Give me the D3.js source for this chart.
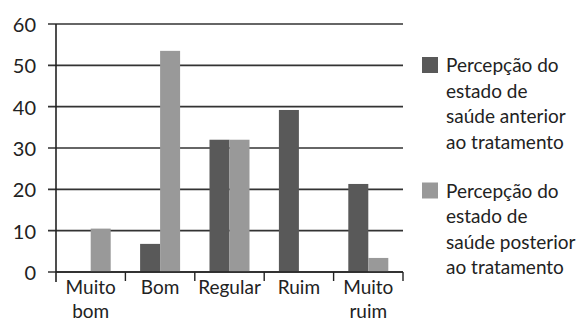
<!DOCTYPE html>
<html>
<head>
<meta charset="utf-8">
<script src="https://cdn.jsdelivr.net/npm/d3@7"></script>
<style>
  html, body { margin: 0; padding: 0; background: #fff; }
  svg { display: block; }
  text { font-family: Lato, "Liberation Sans", Arial, sans-serif; fill: #222; }
</style>
</head>
<body>
<svg id="chart" width="576" height="320"></svg>
<script>
// Categories (two-line labels) and the two series of percentages
const categories = ["Muito bom", "Bom", "Regular", "Ruim", "Muito ruim"];
const categoryLines = [["Muito", "bom"], ["Bom"], ["Regular"], ["Ruim"], ["Muito", "ruim"]];
const seriesNames = ["anterior", "posterior"];
const anterior = [0, 6.8, 32, 39.2, 21.3];
const posterior = [10.5, 53.5, 32, 0, 3.4];
const yTicks = [0, 10, 20, 30, 40, 50, 60];
const legendLabels = [
  ["Percepção do", "estado de", "saúde anterior", "ao tratamento"],
  ["Percepção do", "estado de", "saúde posterior", "ao tratamento"]
];
const colors = ["#595959", "#999999"];
const tickFont = 20;
const labelFont = 19;

const svg = d3.select("#chart");
const plot = { left: 56, right: 403, top: 24, bottom: 272 };

const x = d3.scaleBand().domain(categories).range([plot.left, plot.right]).padding(0);
const barW = 20;
const xSub = d3.scaleBand().domain(seriesNames)
  .range([(x.bandwidth() - 2 * barW) / 2, (x.bandwidth() + 2 * barW) / 2]).padding(0);
const y = d3.scaleLinear().domain([0, 60]).range([plot.bottom, plot.top]);

// Horizontal grid lines (they also act as the left ticks)
svg.append("g").selectAll("line").data(yTicks).join("line")
  .attr("x1", plot.left - 8).attr("x2", plot.right)
  .attr("y1", d => y(d)).attr("y2", d => y(d))
  .attr("stroke", "#333").attr("stroke-width", 1.6);

// Y tick labels
svg.append("g").selectAll("text").data(yTicks).join("text")
  .attr("x", 36).attr("y", d => y(d))
  .attr("text-anchor", "end").attr("dominant-baseline", "central")
  .attr("font-size", tickFont).text(d => d);

// Bars
const rows = categories.map((c, i) => ({ cat: c, vals: [anterior[i], posterior[i]] }));
const groups = svg.append("g").selectAll("g").data(rows).join("g")
  .attr("transform", d => `translate(${x(d.cat)},0)`);
groups.selectAll("rect")
  .data(d => d.vals.map((v, j) => ({ s: seriesNames[j], v, j })).filter(e => e.v > 0))
  .join("rect")
  .attr("x", d => xSub(d.s)).attr("width", xSub.bandwidth())
  .attr("y", d => y(d.v)).attr("height", d => y(0) - y(d.v))
  .attr("fill", d => colors[d.j]);

// Baseline and vertical axis
svg.append("line").attr("x1", plot.left).attr("x2", plot.right)
  .attr("y1", y(0)).attr("y2", y(0)).attr("stroke", "#222").attr("stroke-width", 1.6);
svg.append("line").attr("x1", plot.left).attr("x2", plot.left)
  .attr("y1", plot.top).attr("y2", plot.bottom + 10).attr("stroke", "#222").attr("stroke-width", 1.6);

// Category separator ticks below the baseline
const bounds = categories.map(c => x(c)).concat([plot.right]);
svg.append("g").selectAll("line").data(bounds.slice(1)).join("line")
  .attr("x1", d => d).attr("x2", d => d)
  .attr("y1", y(0)).attr("y2", y(0) + 9)
  .attr("stroke", "#222").attr("stroke-width", 1.4);

// Category labels
const lab = svg.append("g").selectAll("text").data(categories).join("text")
  .attr("text-anchor", "middle").attr("font-size", labelFont)
  .attr("x", d => x(d) + x.bandwidth() / 2).attr("y", 294);
lab.selectAll("tspan").data((d, i) => categoryLines[i]).join("tspan")
  .attr("x", function () { return d3.select(this.parentNode).attr("x"); })
  .attr("dy", (d, i) => i === 0 ? 0 : 23.5)
  .text(d => d);

// Legend
const legend = svg.append("g").selectAll("g").data(legendLabels).join("g")
  .attr("transform", (d, i) => `translate(422,${57 + i * 125.5})`);
legend.append("rect").attr("width", 16).attr("height", 16).attr("fill", (d, i) => colors[i]);
legend.append("text").attr("x", 24).attr("y", 15).attr("font-size", labelFont)
  .selectAll("tspan").data(d => d).join("tspan")
  .attr("x", 24).attr("dy", (d, i) => i === 0 ? 0 : 25.5)
  .text(d => d);
</script>
</body>
</html>
